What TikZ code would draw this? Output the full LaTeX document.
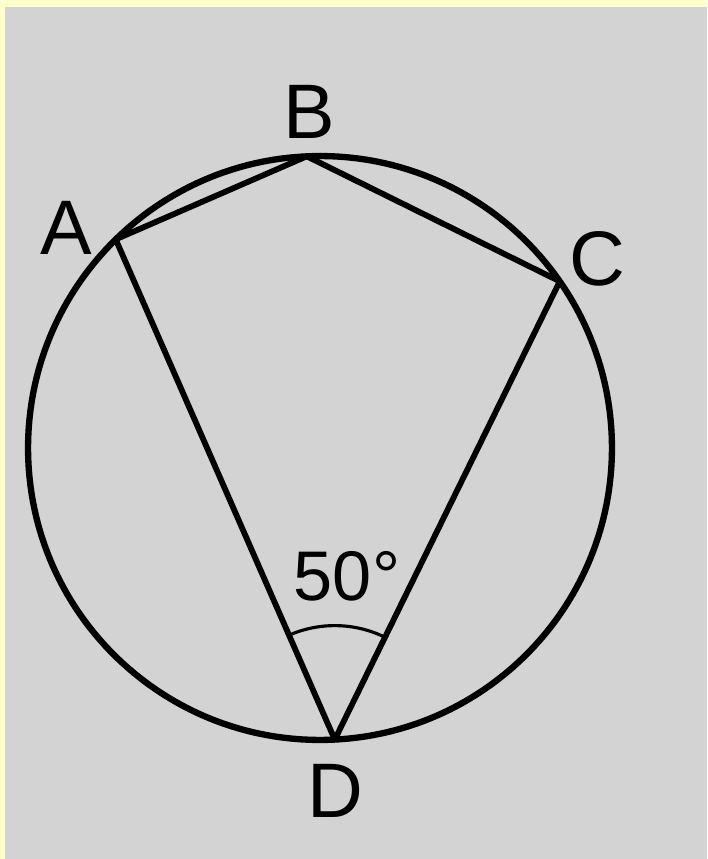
\documentclass[tikz,border=0pt]{standalone}
\usepackage{fontspec}
\setmainfont{Liberation Sans}
\usetikzlibrary{calc}
\begin{document}
\begin{tikzpicture}[x=0.02cm,y=0.02cm,
  edge/.style={line width=3.3pt,line cap=round,line join=round},
  lbl/.style={inner sep=0pt,font=\fontsize{44}{44}\selectfont},
  anglbl/.style={inner sep=0pt,font=\fontsize{40}{40}\selectfont}]
\definecolor{bgyellow}{HTML}{FFFFCC}
\definecolor{bggray}{HTML}{D3D3D3}
\useasboundingbox (0,0) rectangle (707,859);
\fill[bgyellow] (0,0) rectangle (707,859);
\fill[bggray] (5,0) rectangle (707,852);
\coordinate (O) at (320,411);
\coordinate (A) at ($(O)+(134.4:292)$);
\coordinate (B) at ($(O)+(92.6:292)$);
\coordinate (C) at ($(O)+(34.8:292)$);
\coordinate (D) at ($(O)+(272.9:292)$);
\draw[line width=3.6pt] (O) circle[radius=5.84cm];
\draw[edge] (A) -- (B) -- (C) -- (D) -- cycle;
\draw[line width=1.8pt] ($(D)+(64:114)$) arc[start angle=64,end angle=114,radius=2.28cm];
\node[lbl] (la) at (66,631) {A};
\node[lbl] (lb) at (309,747) {B};
\node[lbl] (lc) at (597,600) {C};
\node[lbl] (ld) at (335,68) {D};
\node[anglbl] (ang) at (347,283) {50°};
\end{tikzpicture}
\end{document}
